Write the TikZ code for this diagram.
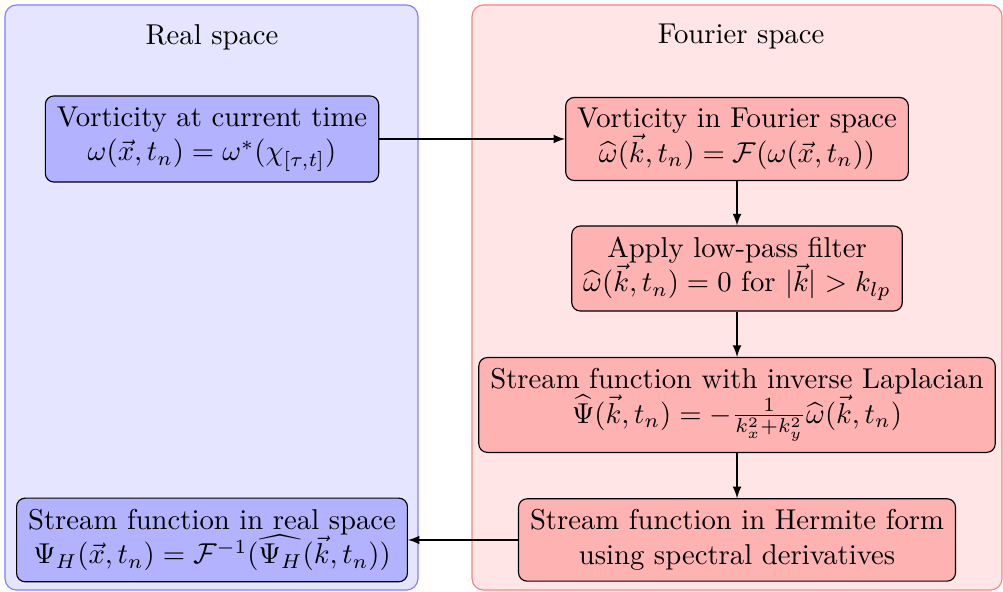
\documentclass[tikz,border=0pt]{standalone}
\usepackage{amsmath, amssymb}
\definecolor{realback}{rgb}{0.9, 0.9, 1.0}
\definecolor{realedge}{rgb}{0.5, 0.5, 1.0}
\definecolor{realbox}{rgb}{0.7, 0.7, 1.0}
\definecolor{fourierback}{rgb}{1.0, 0.9, 0.9}
\definecolor{fourieredge}{rgb}{1.0, 0.5, 0.5}
\definecolor{fourierbox}{rgb}{1.0, 0.7, 0.7}
\tikzset{
  realStep/.style={draw=black, fill=realbox, rounded corners=3pt, inner xsep=4pt, inner ysep=3.8pt, align=center},
  fourierStep/.style={draw=black, fill=fourierbox, rounded corners=3pt, inner xsep=4pt, inner ysep=3.8pt, align=center},
}
\def\shapeReal{(0.061,-0.061) rectangle (5.118,-7.225)}
\def\shapeFourier{(5.78,-0.061) rectangle (12.27,-7.225)}

\begin{document}
\begin{tikzpicture}[>=latex]
  \useasboundingbox (0,0) rectangle (12.282,-7.249);
  %background panels
    \draw[realedge, fill=realback, rounded corners=4pt] \shapeReal;
    \draw[fourieredge, fill=fourierback, rounded corners=4pt] \shapeFourier;

    \node (realTitle) at (2.596,-0.453) {Real space};
    \node (fourierTitle) at (9.074,-0.453) {Fourier space};

  %steps
    \node[realStep] (vortReal) at (2.596,-1.702) {Vorticity at current time\\ $\omega(\vec{x},t_n)=\omega^*(\chi_{[\tau,t]})$};
    \node[fourierStep] (vortFourier) at (9.025,-1.702) {Vorticity in Fourier space\\ $\widehat{\omega}(\vec{k},t_n)=\mathcal{F}(\omega(\vec{x},t_n))$};
    \node[fourierStep] (lowPass) at (9.025,-3.288) {Apply low-pass filter\\ $\widehat{\omega}(\vec{k},t_n)=0$ for $|\vec{k}|>k_{lp}$};
    \node[fourierStep] (streamLap) at (9.025,-4.959) {Stream function with inverse Laplacian\\ $\widehat{\Psi}(\vec{k},t_n)=-\frac{1}{k_x^2+k_y^2}\widehat{\omega}(\vec{k},t_n)$};
    \node[fourierStep] (streamHermite) at (9.025,-6.612) {Stream function in Hermite form\\ using spectral derivatives};
    \node[realStep] (streamReal) at (vortReal |- streamHermite) {Stream function in real space\\ $\Psi_H(\vec{x},t_n)=\mathcal{F}^{-1}(\widehat{\Psi_H}(\vec{k},t_n))$};

    \draw[->] (vortReal) -- (vortFourier);
    \draw[->] (vortFourier) -- (lowPass);
    \draw[->] (lowPass) -- (streamLap);
    \draw[->] (streamLap) -- (streamHermite);
    \draw[->] (streamHermite) -- (streamReal);
\end{tikzpicture}
\end{document}
